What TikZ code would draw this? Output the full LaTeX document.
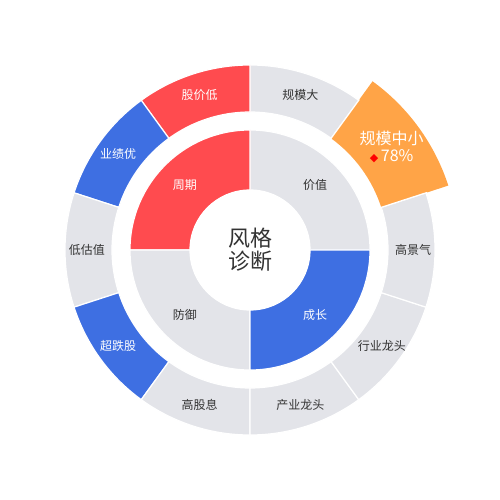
\documentclass[tikz,border=0pt]{standalone}
\usepackage{fontspec}
\setmainfont{Noto Sans CJK SC}
\newfontfamily\symfont{DejaVu Sans}
\definecolor{cgray}{HTML}{E3E4E9}
\definecolor{cred}{HTML}{FF4B4F}
\definecolor{cblue}{HTML}{3E6FE2}
\definecolor{corange}{HTML}{FFA447}
\definecolor{ctext}{HTML}{333333}
\newcommand{\annsec}[5]{% color, a1, a2, r1, r2
  \fill[#1, draw=white, line width=1.2pt] (#2:#4) arc[start angle=#2, end angle=#3, radius=#4] -- (#3:#5) arc[start angle=#3, end angle=#2, radius=#5] -- cycle;}
\tikzset{
  lbl/.style={font=\fontsize{12}{14}\selectfont, text=ctext, inner sep=0pt},
  wlbl/.style={font=\fontsize{12}{14}\selectfont, text=white, inner sep=0pt},
}
\begin{document}
\begin{tikzpicture}[x=1pt,y=1pt]
\useasboundingbox (-250,-250) rectangle (250,250);
% inner ring
\annsec{cgray}{0}{90}{60}{120}
\annsec{cred}{90}{180}{60}{120}
\annsec{cgray}{180}{270}{60}{120}
\annsec{cblue}{270}{360}{60}{120}
% outer ring
\annsec{cgray}{54}{90}{138}{185}
\annsec{cred}{90}{126}{138}{185}
\annsec{cblue}{126}{162}{138}{185}
\annsec{cgray}{162}{198}{138}{185}
\annsec{cblue}{198}{234}{138}{185}
\annsec{cgray}{234}{270}{138}{185}
\annsec{cgray}{270}{306}{138}{185}
\annsec{cgray}{306}{342}{138}{185}
\annsec{cgray}{342}{378}{138}{185}
\fill[corange] (18:138) arc[start angle=18, end angle=54, radius=138] -- (54:208.5) arc[start angle=54, end angle=18, radius=208.5] -- cycle;
\draw[white, line width=1.2pt] (18:137) -- (18:186) (54:137) -- (54:186);
% center
\fill[white] (0,0) circle (60);
\node[font=\fontsize{22}{23}\selectfont, text=ctext, align=center, inner sep=0pt] (center) at (0,0) {风格\\诊断};
% inner labels
\node[lbl] (jiazhi) at (45:92) {价值};
\node[wlbl] (zhouqi) at (135:92) {周期};
\node[lbl] (fangyu) at (225:92) {防御};
\node[wlbl] (chengzhang) at (315:92) {成长};
% outer labels
\node[lbl] (gmd) at (72:163) {规模大};
\node[wlbl] (gjd) at (108:163) {股价低};
\node[wlbl] (yjy) at (144:163) {业绩优};
\node[lbl] (dgz) at (180:163) {低估值};
\node[wlbl] (cdg) at (216:163) {超跌股};
\node[lbl] (ggx) at (252:163) {高股息};
\node[lbl] (cylt) at (288:163) {产业龙头};
\node[lbl] (hylt) at (324:163) {行业龙头};
\node[lbl] (gjq) at (0:163) {高景气};
\node[font=\fontsize{16}{18}\selectfont, text=white, inner sep=0pt, align=center] (gmzx) at (36:175) {规模中小\\[-1pt]{\color{red}\symfont\fontsize{11}{12}\selectfont ◆}\,78\%};
\end{tikzpicture}
\end{document}
